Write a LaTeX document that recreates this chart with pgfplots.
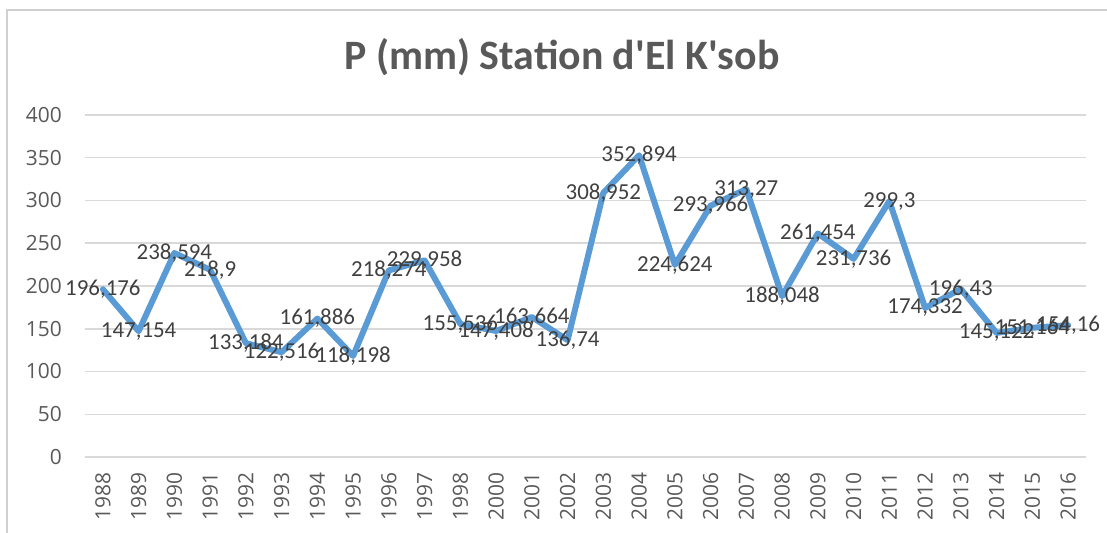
\documentclass[border=0pt]{standalone}
\usepackage{fontspec}
\setmainfont{Carlito}
\newfontfamily\osans{Open Sans}
\usepackage{pgfplots}
\pgfplotsset{compat=1.18}
\usepackage{pgfplotstable}
\usetikzlibrary{calc}
\definecolor{linebl}{HTML}{5B9BD5}
\definecolor{gridg}{HTML}{D9D9D9}
\definecolor{ticktxt}{HTML}{595959}
\definecolor{labtxt}{HTML}{404040}
\definecolor{frameg}{HTML}{D0D0D0}
\pgfplotstableread{
x y lab
0 196.176 196,176
1 147.154 147,154
2 238.594 238,594
3 218.9 218,9
4 133.184 133,184
5 122.516 122,516
6 161.886 161,886
7 118.198 118,198
8 218.274 218,274
9 229.958 229,958
10 155.536 155,536
11 147.408 147,408
12 163.664 163,664
13 136.74 136,74
14 308.952 308,952
15 352.894 352,894
16 224.624 224,624
17 293.966 293,966
18 313.27 313,27
19 188.048 188,048
20 261.454 261,454
21 231.736 231,736
22 299.3 299,3
23 174.332 174,332
24 196.43 196,43
25 145.122 145,122
26 151.164 151,164
27 154.16 154,16
}\datatable
\begin{document}
\begin{tikzpicture}
\begin{axis}[
  name=ax,
  scale only axis, width=1001bp, height=342bp,
  xmin=-0.5, xmax=27.5, ymin=0, ymax=400,
  ytick={0,50,...,400},
  xtick={0,...,27},
  xticklabels={1988,1989,1990,1991,1992,1993,1994,1995,1996,1997,1998,2000,2001,2002,2003,2004,2005,2006,2007,2008,2009,2010,2011,2012,2013,2014,2015,2016},
  axis line style={draw=none},
  axis x line*=bottom, axis y line*=left,
  major tick length=0pt,
  ymajorgrids, grid style={gridg, line width=1.5bp},
  /pgf/number format/assume math mode=true,
  ticklabel style={font=\osans\fontsize{21}{24}\selectfont, text=ticktxt, inner sep=0pt},
  xticklabel style={rotate=90, anchor=east},
  xticklabel shift=15bp,
  yticklabel style={anchor=east},
  yticklabel shift=23bp,
  clip=false,
]
\draw[gridg, line width=1.5bp] (axis cs:-0.5,0) -- (axis cs:27.5,0);
\addplot[linebl, line width=6bp, line join=round, line cap=round, mark=none,
  nodes near coords={\pgfplotspointmeta},
  point meta=explicit symbolic,
  every node near coord/.style={anchor=center, inner sep=0pt, text=labtxt, font=\fontsize{23}{26}\selectfont},
] table[x=x, y=y, meta=lab] {\datatable};
\end{axis}
\pgfresetboundingbox
\coordinate (O) at ($(ax.south west)+(-85bp,-76bp)$);
\path[use as bounding box] (O) rectangle ++(1107bp,533bp);
\draw[frameg, line width=1.8bp] ($(O)+(7bp,0)$) -- ++(0,523bp) -- ++(1110bp,0);
\node[font=\fontsize{42}{48}\selectfont\bfseries, text=ticktxt, anchor=base] at ($(O)+(562bp,463bp)$) {P (mm) Station d\textquotesingle El K\textquotesingle sob};
\end{tikzpicture}
\end{document}
